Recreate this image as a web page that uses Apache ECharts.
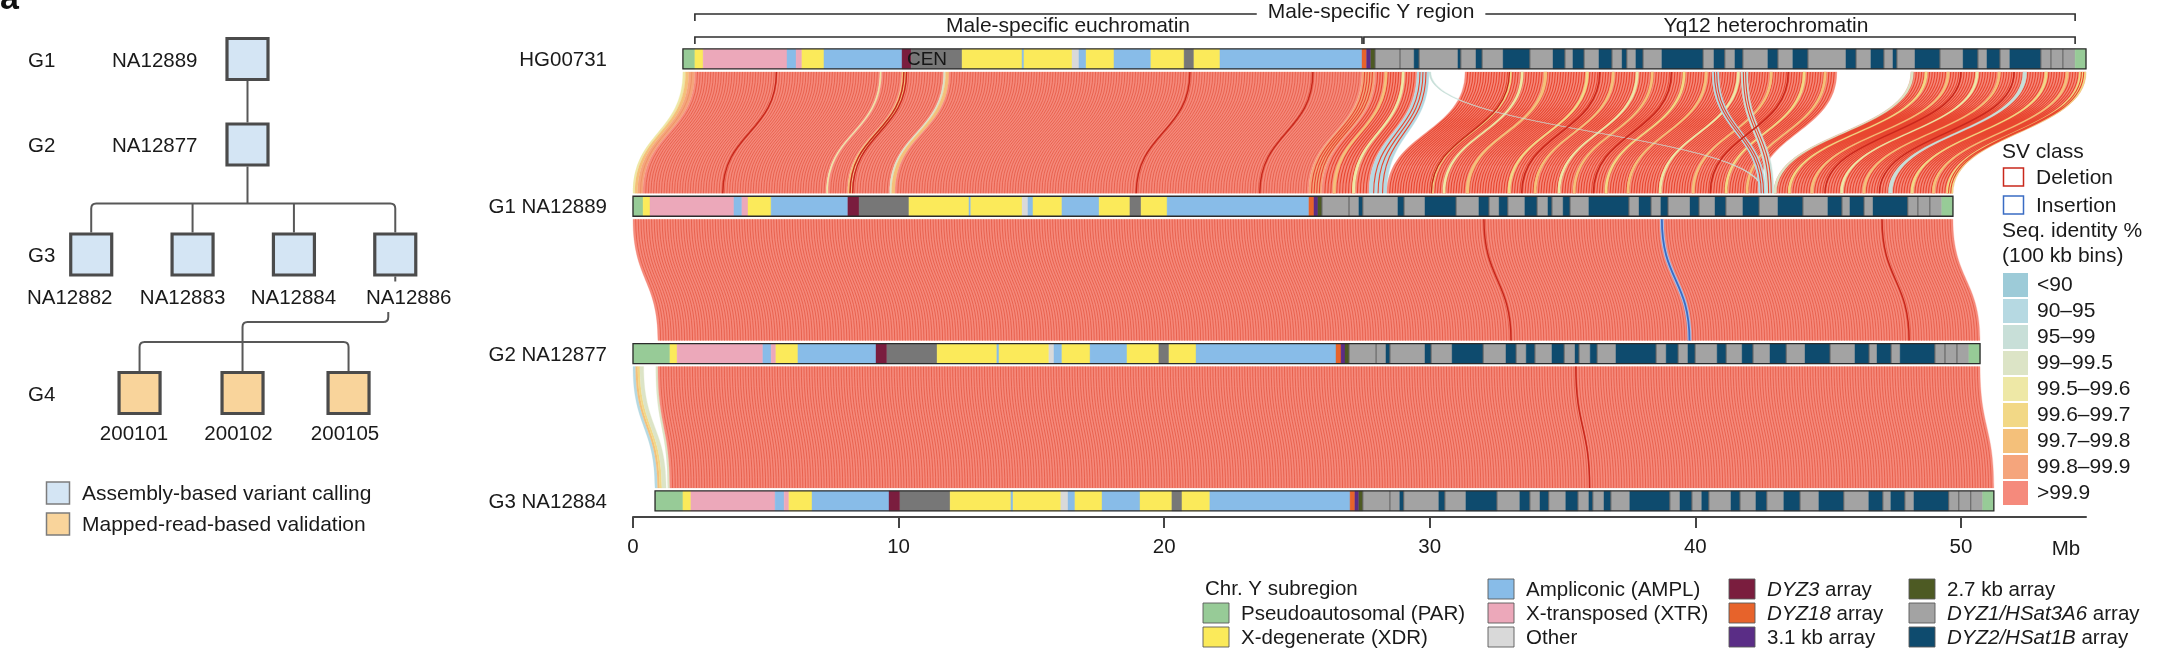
<!DOCTYPE html>
<html>
<head>
<meta charset="utf-8">
<title>Chr Y assemblies in a pedigree</title>
<script src="https://cdn.jsdelivr.net/npm/echarts@6.0.0/dist/echarts.min.js"></script>
<style>
html,body{margin:0;padding:0;background:#fff;}
#chart{width:2167px;height:657px;}
</style>
</head>
<body>
<div id="chart"></div>
<script>
// ======================= DATA =======================
const trackNames = ['HG00731', 'G1 NA12889', 'G2 NA12877', 'G3 NA12884'];

const subregionNames = ['Pseudoautosomal (PAR)', 'X-degenerate (XDR)', 'Ampliconic (AMPL)', 'X-transposed (XTR)', 'Other',
  '{i|DYZ3} array', '{i|DYZ18} array', '3.1 kb array', '2.7 kb array', '{i|DYZ1/HSat3A6} array', '{i|DYZ2/HSat1B} array', 'Centromere'];

const identityLabels = ['<90', '90–95', '95–99', '99–99.5', '99.5–99.6', '99.6–99.7', '99.7–99.8', '99.8–99.9', '>99.9'];

const axisTickValues = [0, 10, 20, 30, 40, 50];

// segments: [startMb, endMb, subregionIndex]
const hg00731Segments = [
  [1.88,2.33,0],[2.33,2.64,1],[2.64,5.80,3],[5.80,6.14,2],[6.14,6.36,3],[6.36,7.19,1],[7.19,10.13,2],[10.13,10.47,5],
  [10.47,12.39,11],[12.39,14.65,1],[14.65,14.72,2],[14.72,16.53,1],[16.53,16.79,4],[16.79,17.06,2],[17.06,18.11,1],
  [18.11,19.50,2],[19.50,20.75,1],[20.75,21.12,11],[21.12,22.10,1],[22.10,27.45,2],[27.45,27.62,6],[27.62,27.78,7],[27.78,27.94,8],
  [27.94,28.88,9],[28.88,29.41,9],[29.41,29.60,10],[29.60,31.06,9],[31.06,31.17,10],[31.17,31.74,9],[31.74,31.97,10],
  [31.97,32.76,9],[32.76,33.77,10],[33.77,34.64,9],[34.64,35.09,10],[35.09,35.39,9],[35.39,35.81,10],[35.81,36.37,9],
  [36.37,36.86,10],[36.86,37.24,9],[37.24,37.42,10],[37.42,37.76,9],[37.76,38.03,10],[38.03,38.74,9],[38.74,40.29,10],
  [40.29,40.70,9],[40.70,41.11,10],[41.11,41.49,9],[41.49,41.79,10],[41.79,42.73,9],[42.73,43.11,10],[43.11,43.67,9],
  [43.67,44.24,10],[44.24,45.67,9],[45.67,46.05,10],[46.05,46.61,9],[46.61,47.10,10],[47.10,47.44,9],[47.44,47.59,10],
  [47.59,48.27,9],[48.27,49.21,10],[49.21,50.08,9],[50.08,50.64,10],[50.64,50.98,9],[50.98,51.47,10],[51.47,51.84,9],
  [51.84,53.01,10],[53.01,53.39,9],[53.39,53.84,9],[53.84,54.30,9],[54.30,54.71,0]
];
const na12889Segments = [
  [0.00,0.38,0],[0.38,0.64,1],[0.64,3.80,3],[3.80,4.10,2],[4.10,4.33,3],[4.33,5.20,1],[5.20,8.09,2],[8.09,8.51,5],
  [8.51,10.39,11],[10.39,12.65,1],[12.65,12.72,2],[12.72,14.65,1],[14.65,14.87,4],[14.87,15.06,2],[15.06,16.15,1],
  [16.15,17.55,2],[17.55,18.71,1],[18.71,19.13,11],[19.13,20.11,1],[20.11,25.45,2],[25.45,25.64,6],[25.64,25.79,7],[25.79,25.94,8],
  [25.94,26.96,9],[26.96,27.33,9],[27.33,27.48,10],[27.48,28.80,9],[28.80,29.03,10],[29.03,29.82,9],[29.82,30.99,10],
  [30.99,31.85,9],[31.85,32.23,10],[32.23,32.61,9],[32.61,32.94,10],[32.94,33.58,9],[33.58,34.04,10],[34.04,34.45,9],
  [34.45,34.60,10],[34.60,35.02,9],[35.02,35.28,10],[35.28,35.99,9],[35.99,37.50,10],[37.50,37.88,9],[37.88,38.33,10],
  [38.33,38.70,9],[38.70,38.97,10],[38.97,39.80,9],[39.80,40.14,10],[40.14,40.74,9],[40.74,41.15,10],[41.15,41.79,9],
  [41.79,42.40,10],[42.40,43.11,9],[43.11,44.05,10],[44.05,44.99,9],[44.99,45.52,10],[45.52,45.82,9],[45.82,46.35,10],
  [46.35,46.69,9],[46.69,48.00,10],[48.00,48.38,9],[48.38,48.83,9],[48.83,49.28,9],[49.28,49.70,0]
];
const na12877Segments = [
  [0.00,1.39,0],[1.39,1.66,1],[1.66,4.89,3],[4.89,5.20,2],[5.20,5.38,3],[5.38,6.21,1],[6.21,9.15,2],[9.15,9.56,5],
  [9.56,11.45,11],[11.45,13.70,1],[13.70,13.78,2],[13.78,15.66,1],[15.66,15.85,4],[15.85,16.15,2],[16.15,17.21,1],
  [17.21,18.60,2],[18.60,19.80,1],[19.80,20.18,11],[20.18,21.20,1],[21.20,26.47,2],[26.47,26.66,6],[26.66,26.81,7],[26.81,26.96,8],
  [26.96,27.98,9],[27.98,28.35,9],[28.35,28.50,10],[28.50,29.82,9],[29.82,30.05,10],[30.05,30.84,9],[30.84,32.01,10],
  [32.01,32.87,9],[32.87,33.25,10],[33.25,33.63,9],[33.63,33.96,10],[33.96,34.60,9],[34.60,35.06,10],[35.06,35.47,9],
  [35.47,35.62,10],[35.62,36.04,9],[36.04,36.30,10],[36.30,37.01,9],[37.01,38.52,10],[38.52,38.90,9],[38.90,39.35,10],
  [39.35,39.72,9],[39.72,39.99,10],[39.99,40.82,9],[40.82,41.16,10],[41.16,41.76,9],[41.76,42.17,10],[42.17,42.81,9],
  [42.81,43.42,10],[43.42,44.13,9],[44.13,45.07,10],[45.07,46.01,9],[46.01,46.54,10],[46.54,46.84,9],[46.84,47.37,10],
  [47.37,47.71,9],[47.71,49.02,10],[49.02,49.40,9],[49.40,49.85,9],[49.85,50.30,9],[50.30,50.72,0]
];
const na12884Segments = [
  [0.83,1.88,0],[1.88,2.18,1],[2.18,5.35,3],[5.35,5.69,2],[5.69,5.87,3],[5.87,6.74,1],[6.74,9.64,2],[9.64,10.05,5],
  [10.05,11.94,11],[11.94,14.23,1],[14.23,14.31,2],[14.31,16.11,1],[16.11,16.38,4],[16.38,16.64,2],[16.64,17.66,1],
  [17.66,19.09,2],[19.09,20.29,1],[20.29,20.67,11],[20.67,21.72,1],[21.72,27.00,2],[27.00,27.18,6],[27.18,27.33,7],[27.33,27.48,8],
  [27.48,28.50,9],[28.50,28.87,9],[28.87,29.02,10],[29.02,30.34,9],[30.34,30.57,10],[30.57,31.36,9],[31.36,32.53,10],
  [32.53,33.39,9],[33.39,33.77,10],[33.77,34.15,9],[34.15,34.48,10],[34.48,35.12,9],[35.12,35.58,10],[35.58,35.99,9],
  [35.99,36.14,10],[36.14,36.56,9],[36.56,36.82,10],[36.82,37.53,9],[37.53,39.04,10],[39.04,39.42,9],[39.42,39.87,10],
  [39.87,40.24,9],[40.24,40.51,10],[40.51,41.34,9],[41.34,41.68,10],[41.68,42.28,9],[42.28,42.69,10],[42.69,43.33,9],
  [43.33,43.94,10],[43.94,44.65,9],[44.65,45.59,10],[45.59,46.53,9],[46.53,47.06,10],[47.06,47.36,9],[47.36,47.89,10],
  [47.89,48.23,9],[48.23,49.54,10],[49.54,49.92,9],[49.92,50.37,9],[50.37,50.82,9],[50.82,51.24,0]
];

// alignment ribbons: [upperStartMb, upperEndMb, lowerStartMb, lowerEndMb, identityClass]
const hgToG1Blocks = [
  [1.88,1.98,0.00,0.08,4],[1.98,2.10,0.08,0.18,6],[2.10,2.33,0.18,0.38,7],
  [2.33,9.30,0.38,7.29,8],[9.30,9.36,7.29,7.35,4],[9.36,10.13,7.35,8.09,8],[10.13,10.28,8.09,8.24,6],
  [10.28,11.70,8.24,9.67,8],[11.70,11.77,9.67,9.74,3],[11.77,11.90,9.74,9.87,6],[11.90,27.45,9.87,25.45,8],
  [27.45,27.94,25.45,25.94,7],[27.94,29.52,25.94,27.72,8],[29.52,29.97,27.72,28.39,1],
  [31.33,45.33,28.39,42.39,8],[48.12,54.71,42.96,49.70,8]
];
const hgToG1Stripes = [
  [28.30,28.40,26.35,26.46,6],[28.95,29.05,27.08,27.19,4],
  [32.98,33.08,30.04,30.14,5],[33.43,33.53,30.49,30.59,4],[34.30,34.42,31.36,31.48,6],[35.88,35.98,32.94,33.04,5],
  [36.86,36.96,33.92,34.02,6],[37.76,37.86,34.82,34.92,4],[38.33,38.43,35.39,35.49,6],[39.53,39.63,36.59,36.69,5],
  [40.36,40.46,37.42,37.52,6],[41.57,41.67,38.63,38.73,4],[42.81,42.91,39.87,39.97,6],[44.05,44.15,41.11,41.21,5],
  [44.84,44.94,41.90,42.00,6],
  [48.64,48.74,43.49,43.59,5],[49.47,49.57,44.34,44.44,6],[50.56,50.66,45.46,45.56,4],[51.39,51.49,46.30,46.40,6],
  [53.16,53.26,48.11,48.21,5],[53.95,54.05,48.92,49.02,6],[54.45,54.71,49.45,49.70,5]
];
const hgToG1Crossing = [
  [29.97,30.04,42.55,42.62,2],[40.63,40.89,42.39,42.66,1],[41.72,41.98,42.66,42.96,2],
  [48.12,48.22,42.96,43.06,3],[52.33,52.48,47.27,47.42,2]
];
const g1ToG2Blocks = [[0.00,49.70,0.94,50.72,8]];
const g2ToG3Blocks = [
  [0.00,0.10,0.83,0.93,1],[0.10,0.18,0.93,1.01,6],[0.18,0.26,1.01,1.09,5],[0.26,0.40,1.09,1.25,3],
  [0.86,0.94,1.31,1.39,3],[0.94,50.72,1.39,51.24,8]
];
// structural variants: [pairIndex, upperMb, lowerMb, svClass(0 deletion, 1 insertion)]
const svCalls = [
  [0,5.40,3.38,0],[0,10.20,8.17,0],[0,10.30,8.27,0],[0,20.97,18.95,0],[0,25.60,23.60,0],
  [0,33.00,30.06,0],[0,36.40,33.46,0],[0,39.10,36.16,0],[0,43.50,40.56,0],[0,50.00,44.88,0],[0,52.00,46.93,0],
  [1,32.04,33.06,0],[1,38.74,39.78,1],[1,47.03,48.05,0],
  [2,35.50,36.02,0]
];
const svClassNames = ['Deletion', 'Insertion'];

// region brackets on HG00731: [startMb, endMb, level]
const regionBrackets = [[2.33,54.30,0],[2.33,27.45,1],[27.52,54.30,1]];
const regionBracketNames = ['Male-specific Y region', 'Male-specific euchromatin', 'Yq12 heterochromatin'];
const regionLabelMb = [27.79, 16.38, 42.66];
const centromereLabel = [[11.07, 0]];

// pedigree
const pedigreeNames = ['NA12889','NA12877','NA12882','NA12883','NA12884','NA12886','200101','200102','200105'];
const pedigreeGen = [0,1,2,2,2,2,3,3,3];
const pedigreeSlot = [1.542,1.542,0,1,2,3,0.477,1.493,2.539];
const pedigreeKind = [0,0,0,0,0,0,1,1,1];
const pedigreeFamilies = [[0,[1]],[1,[2,3,4,5]],[5,[6,7,8]]];
const generationNames = ['G1','G2','G3','G4'];
const pedigreeKindNames = ['Assembly-based variant calling','Mapped-read-based validation'];

// ======================= STYLE / LAYOUT =======================
const FONT = '"Liberation Sans", Arial, Helvetica, sans-serif';
const subregionColors = ['#97cb97','#fbea5a','#88bce8','#eca8ba','#d9d9d9','#7a1d3e','#e7632b','#5a2d86','#4d5a23','#a3a3a3','#0e4b6e','#777777'];
const identityColors = ['#9dcbd8','#b6d9e2','#c8dfd8','#dce4c6','#eee8a6','#f2d886','#f4c07a','#f5a57c','#f58a7c'];
const binLineColors = ['#86b5c3','#9cc3cd','#afc9c1','#c6cfae','#dcd489','#e6c264','#eaa85c','#ec8b5f','#e4543f'];
const svColors = ['#c9281c','#3a6cc4'];
const pedigreeFill = ['#d4e5f4','#f9d49b'];
const BAR_H = 20, RIB_GAP = 13, BIN_MB = 0.1;
const GEN_Y = [59,144.5,254.5,393];
const PED_LABEL_DX = [0,0,-21.5,-10,-0.5,13.5,-5.5,-4,-3.5];
const BRACKET_OFF = [45,22];

// ======================= BUILD =======================
const allSegments = [hg00731Segments, na12889Segments, na12877Segments, na12884Segments];
const segData = [];
allSegments.forEach((segs, t) => segs.forEach(s => segData.push([s[0], s[1], s[2], t])));
const outlineData = allSegments.map((segs, t) => [Math.min(...segs.map(s => s[0])), Math.max(...segs.map(s => s[1])), t]);

const ribbonData = [];
[[hgToG1Blocks,0],[hgToG1Stripes,0],[hgToG1Crossing,0],[g1ToG2Blocks,1],[g2ToG3Blocks,2]].forEach(([arr, p]) => {
  arr.forEach(r => ribbonData.push([r[0], r[1], r[2], r[3], r[4], p]));
});

function ribbonGeom(api, pair) {
  const yt = api.coord([0, pair])[1] + RIB_GAP;
  const yb = api.coord([0, pair + 1])[1] - RIB_GAP;
  return [yt, yb, (yt + yb) / 2];
}

function renderRibbon(params, api) {
  const u0 = api.value(0), u1 = api.value(1), l0 = api.value(2), l1 = api.value(3), cls = api.value(4), pair = api.value(5);
  const [yt, yb, ym] = ribbonGeom(api, pair);
  const xt0 = api.coord([u0, pair])[0], xt1 = api.coord([u1, pair])[0];
  const xb0 = api.coord([l0, pair + 1])[0], xb1 = api.coord([l1, pair + 1])[0];
  const fillPath = `M${xt0} ${yt}C${xt0} ${ym} ${xb0} ${ym} ${xb0} ${yb}L${xb1} ${yb}C${xb1} ${ym} ${xt1} ${ym} ${xt1} ${yt}Z`;
  const children = [{ type: 'path', shape: { pathData: fillPath }, style: { fill: identityColors[cls], stroke: identityColors[cls], lineWidth: 0.3 } }];
  const n = Math.max(1, Math.round((u1 - u0) / BIN_MB));
  if (n > 1) {
    let d = '';
    for (let i = 1; i < n; i++) {
      const a = xt0 + (xt1 - xt0) * i / n, b = xb0 + (xb1 - xb0) * i / n;
      d += `M${a.toFixed(2)} ${yt}C${a.toFixed(2)} ${ym} ${b.toFixed(2)} ${ym} ${b.toFixed(2)} ${yb}`;
    }
    const dense = (pair === 0 && u0 >= 27.4);
    children.push({ type: 'path', shape: { pathData: d }, style: { fill: null, stroke: dense ? '#e8462f' : binLineColors[cls], lineWidth: dense ? 1.1 : 0.75 } });
  }
  return { type: 'group', children };
}

function renderSV(params, api) {
  const pair = api.value(0), u = api.value(1), l = api.value(2), t = api.value(3);
  const [yt, yb, ym] = ribbonGeom(api, pair);
  const a = api.coord([u, pair])[0], b = api.coord([l, pair + 1])[0];
  const d = `M${a} ${yt}C${a} ${ym} ${b} ${ym} ${b} ${yb}`;
  const children = [];
  if (t === 1) children.push({ type: 'path', shape: { pathData: d }, style: { fill: null, stroke: '#a9bde6', lineWidth: 4 } });
  children.push({ type: 'path', shape: { pathData: d }, style: { fill: null, stroke: svColors[t], lineWidth: t === 1 ? 1.8 : 1.5 } });
  return { type: 'group', children };
}

function renderSegment(params, api) {
  const t = api.value(3), cls = api.value(2);
  const s = api.coord([api.value(0), t]), e = api.coord([api.value(1), t]);
  const children = [{ type: 'rect', shape: { x: s[0], y: s[1] - BAR_H / 2, width: e[0] - s[0], height: BAR_H },
    style: { fill: subregionColors[cls], stroke: subregionColors[cls], lineWidth: 0.4 } }];
  if (cls === 9) children.push({ type: 'line', shape: { x1: s[0], y1: s[1] - BAR_H / 2, x2: s[0], y2: s[1] + BAR_H / 2 }, style: { stroke: '#4a4a4a', lineWidth: 0.8 } });
  return { type: 'group', children };
}

function renderOutline(params, api) {
  const t = api.value(2);
  const s = api.coord([api.value(0), t]), e = api.coord([api.value(1), t]);
  return { type: 'rect', shape: { x: s[0], y: s[1] - BAR_H / 2, width: e[0] - s[0], height: BAR_H }, style: { fill: null, stroke: '#2b2b2b', lineWidth: 1.3 } };
}

function textEl(text, x, y, size, align, extra) {
  return { type: 'text', silent: true, style: Object.assign({ text, x, y, font: `${size}px ${FONT}`, fill: '#1a1a1a', textAlign: align || 'left', textVerticalAlign: 'middle' }, extra || {}) };
}

function renderTrackLabel(params, api) {
  const c = api.coord([0, api.value(1)]);
  return textEl(trackNames[params.dataIndex], c[0] - 26, c[1] + 1.5, 20.5, 'right');
}

function renderBracket(params, api) {
  const i = params.dataIndex, lvl = api.value(2);
  const y = api.coord([0, 0])[1] - BRACKET_OFF[lvl];
  const xs = api.coord([api.value(0), 0])[0], xe = api.coord([api.value(1), 0])[0];
  const lx = api.coord([regionLabelMb[i], 0])[0];
  const children = [{ type: 'polyline', shape: { points: [[xs, y + 7], [xs, y], [xe, y], [xe, y + 7]] }, style: { fill: null, stroke: '#2e2e2e', lineWidth: 1.6 } }];
  if (lvl === 0) children.push(textEl(regionBracketNames[i], lx, y - 2, 21, 'center', { backgroundColor: '#fff', padding: [1, 11, 1, 11] }));
  else children.push(textEl(regionBracketNames[i], lx, y - 11, 21, 'center'));
  return { type: 'group', children };
}

function renderCen(params, api) {
  const c = api.coord([api.value(0), api.value(1)]);
  return textEl('CEN', c[0], c[1] + 1, 19, 'center', { fill: '#161616' });
}

// pedigree
const pedNodeData = pedigreeSlot.map((s, i) => [s, GEN_Y[pedigreeGen[i]]]);
function renderPedNode(params, api) {
  const i = params.dataIndex, g = pedigreeGen[i];
  const c = api.coord([api.value(0), api.value(1)]);
  const children = [{ type: 'rect', shape: { x: c[0] - 20.5, y: c[1] - 20.5, width: 41, height: 41 },
    style: { fill: pedigreeFill[pedigreeKind[i]], stroke: '#4b4b4b', lineWidth: 3.2 } }];
  if (g < 2) children.push(textEl(pedigreeNames[i], c[0] - 50, c[1] + 2, 20.5, 'right'));
  else children.push(textEl(pedigreeNames[i], c[0] + PED_LABEL_DX[i], c[1] + (g === 2 ? 43.5 : 41), 20.5, 'center'));
  return { type: 'group', children };
}
function renderGenLabel(params, api) {
  const c = api.coord([api.value(0), api.value(1)]);
  return textEl(generationNames[params.dataIndex], 28, c[1] + 2, 20.5, 'left');
}
function renderFamily(params, api) {
  const fam = pedigreeFamilies[params.dataIndex];
  const P = api.coord(pedNodeData[fam[0]]);
  const kids = fam[1].map(k => api.coord(pedNodeData[k]));
  const H = 22, r = 5;
  let d = '';
  if (kids.length === 1) {
    d = `M${P[0]} ${P[1] + H}L${kids[0][0]} ${kids[0][1] - H}`;
  } else {
    const top = kids[0][1] - H, sib = top - 29;
    const x0 = kids[0][0], xn = kids[kids.length - 1][0];
    d += `M${x0} ${top}L${x0} ${sib + r}Q${x0} ${sib} ${x0 + r} ${sib}L${xn - r} ${sib}Q${xn} ${sib} ${xn} ${sib + r}L${xn} ${top}`;
    kids.slice(1, -1).forEach(k => { d += `M${k[0]} ${sib}L${k[0]} ${top}`; });
    if (pedigreeGen[fam[0]] >= 2) {
      const px = P[0] - 7, ly = P[1] + 57.5, jy = ly + 10;
      const mid = kids[Math.floor(kids.length / 2)][0];
      d += `M${P[0]} ${P[1] + H}L${P[0]} ${P[1] + H + 5}`;
      d += `M${px} ${ly}L${px} ${jy - r}Q${px} ${jy} ${px - r} ${jy}L${mid + r} ${jy}Q${mid} ${jy} ${mid} ${jy + r}L${mid} ${sib}`;
    } else {
      d += `M${P[0]} ${P[1] + H}L${P[0]} ${sib}`;
    }
  }
  return { type: 'path', shape: { pathData: d }, style: { fill: null, stroke: '#585858', lineWidth: 2 } };
}

// ======================= LEGENDS (graphic) =======================
const graphics = [];
graphics.push({ type: 'text', silent: true, style: { text: 'a', x: 0, y: 17, font: `bold 34px ${FONT}`, fill: '#111', textAlign: 'left', textVerticalAlign: 'bottom' } });
pedigreeKindNames.forEach((n, i) => {
  const y = 482 + i * 31;
  graphics.push({ type: 'rect', silent: true, shape: { x: 46.5, y: y, width: 23, height: 22 }, style: { fill: pedigreeFill[i], stroke: '#7c7c7c', lineWidth: 1.5 } });
  graphics.push(textEl(n, 82, y + 12.5, 21, 'left'));
});
graphics.push(textEl('SV class', 2002, 152, 21, 'left'));
svClassNames.forEach((n, i) => {
  const y = 168 + i * 28;
  graphics.push({ type: 'rect', silent: true, shape: { x: 2003.5, y: y, width: 20, height: 18 }, style: { fill: '#fff', stroke: svColors[i], lineWidth: 1.5 } });
  graphics.push(textEl(n, 2036, y + 10, 21, 'left'));
});
graphics.push(textEl('Seq. identity %', 2002, 231, 21, 'left'));
graphics.push(textEl('(100 kb bins)', 2002, 256, 21, 'left'));
identityLabels.forEach((n, i) => {
  const y = 273 + i * 26;
  graphics.push({ type: 'rect', silent: true, shape: { x: 2003, y: y, width: 25, height: 24 }, style: { fill: identityColors[i] } });
  graphics.push(textEl(n, 2037, y + 12.5, 21, 'left'));
});
graphics.push(textEl('Chr. Y subregion', 1205, 589, 20.5, 'left'));
const legendCols = [1203, 1488, 1729, 1909];
const legendRows = [589, 613, 637];
const legendLayout = [[null, 0, 1], [2, 3, 4], [5, 6, 7], [8, 9, 10]];
legendLayout.forEach((col, ci) => col.forEach((cls, ri) => {
  if (cls === null) return;
  const x = legendCols[ci], y = legendRows[ri];
  graphics.push({ type: 'rect', silent: true, shape: { x: x, y: y - 10, width: 26, height: 20 }, style: { fill: subregionColors[cls], stroke: '#5a5a5a', lineWidth: 0.9 } });
  graphics.push({ type: 'text', silent: true, style: { text: subregionNames[cls], x: x + 38, y: y + 1, font: `20.5px ${FONT}`, fill: '#1a1a1a', textAlign: 'left', textVerticalAlign: 'middle',
    rich: { i: { font: `italic 20.5px ${FONT}`, fill: '#1a1a1a' } } } });
}));
graphics.push(textEl('Mb', 2066, 549, 20.5, 'center'));

// ======================= CHART =======================
const chart = echarts.init(document.getElementById('chart'), null, { renderer: 'canvas' });
chart.setOption({
  animation: false,
  backgroundColor: '#ffffff',
  grid: [
    { left: 633, right: 81, top: 0, bottom: 140, containLabel: false },
    { left: 0, top: 0, width: 450, height: 657, containLabel: false }
  ],
  xAxis: [
    { gridIndex: 0, type: 'value', position: 'bottom', min: 0, max: 54.71, interval: 10,
      axisLine: { onZero: false, lineStyle: { color: '#454545', width: 2 } },
      axisTick: { length: 11, customValues: axisTickValues, lineStyle: { color: '#454545', width: 2 } },
      axisLabel: { fontSize: 20.5, color: '#1a1a1a', margin: 20, fontFamily: FONT, customValues: axisTickValues },
      splitLine: { show: false } },
    { gridIndex: 1, type: 'value', min: -0.9, max: 3.54, show: false }
  ],
  yAxis: [
    { gridIndex: 0, type: 'value', min: -0.4, max: 3.109, inverse: true, show: false },
    { gridIndex: 1, type: 'value', min: 0, max: 657, inverse: true, show: false }
  ],
  graphic: graphics,
  series: [
    { type: 'custom', name: 'alignments', xAxisIndex: 0, yAxisIndex: 0, clip: false, silent: true, renderItem: renderRibbon, data: ribbonData },
    { type: 'custom', name: 'SVs', xAxisIndex: 0, yAxisIndex: 0, clip: false, silent: true, renderItem: renderSV, data: svCalls },
    { type: 'custom', name: 'subregions', xAxisIndex: 0, yAxisIndex: 0, clip: false, silent: true, renderItem: renderSegment, data: segData },
    { type: 'custom', name: 'outline', xAxisIndex: 0, yAxisIndex: 0, clip: false, silent: true, renderItem: renderOutline, data: outlineData },
    { type: 'custom', name: 'cen', xAxisIndex: 0, yAxisIndex: 0, clip: false, silent: true, renderItem: renderCen, data: centromereLabel },
    { type: 'custom', name: 'trackLabels', xAxisIndex: 0, yAxisIndex: 0, clip: false, silent: true, renderItem: renderTrackLabel, data: trackNames.map((n, i) => [0, i]) },
    { type: 'custom', name: 'brackets', xAxisIndex: 0, yAxisIndex: 0, clip: false, silent: true, renderItem: renderBracket, data: regionBrackets },
    { type: 'custom', name: 'families', xAxisIndex: 1, yAxisIndex: 1, clip: false, silent: true, renderItem: renderFamily, data: pedigreeFamilies.map((f, i) => [i, i]) },
    { type: 'custom', name: 'pedigree', xAxisIndex: 1, yAxisIndex: 1, clip: false, silent: true, renderItem: renderPedNode, data: pedNodeData },
    { type: 'custom', name: 'generations', xAxisIndex: 1, yAxisIndex: 1, clip: false, silent: true, renderItem: renderGenLabel, data: GEN_Y.map(y => [0, y]) }
  ]
});
</script>
</body>
</html>
